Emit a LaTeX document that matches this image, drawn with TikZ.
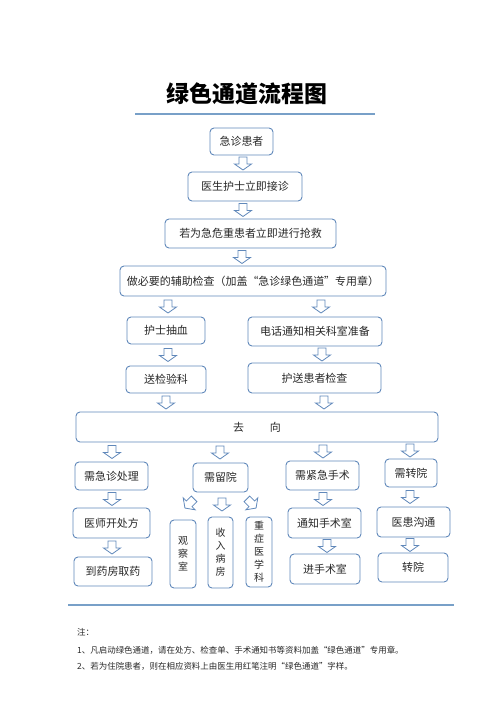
\documentclass[tikz,border=0pt]{standalone}
\usepackage{fontspec}
\setmainfont{Noto Sans CJK SC}
\usetikzlibrary{calc}
\definecolor{boxblue}{RGB}{96,136,186}
\definecolor{ruleblue}{RGB}{120,160,200}
\definecolor{textgray}{RGB}{40,40,40}
\tikzset{flowbox/.style={rectangle, rounded corners=4bp, draw=boxblue, line width=0.9bp, fill=white, inner sep=0pt, text=textgray, font=\fontsize{11}{13}\selectfont, align=center}, vbox/.style={flowbox, font=\fontsize{10}{13}\selectfont}, barr/.pic={\draw[draw=boxblue, line width=0.8bp, fill=white, line join=miter] (-6.5,-4) -- (0.5,-4) -- (0.5,-8.5) -- (6.5,0) -- (0.5,8.5) -- (0.5,4) -- (-6.5,4) -- cycle;}, rule/.style={draw=ruleblue, line width=1.6bp}, note/.style={anchor=west, font=\fontsize{8.5}{10}\selectfont, text=textgray, inner sep=0pt}}
\newcommand{\flowarrow}[3]{\path let \p1=(#2.south), \p2=(#3.north) in (#1bp,\y1) -- pic[midway, sloped]{barr} (#1bp,\y2);}

\begin{document}
\begin{tikzpicture}[x=1bp, y=-1bp]
\useasboundingbox (0,0) rectangle (496,702);
% title
\node (title) at (247,94) {\fontsize{23}{26}\selectfont\bfseries 绿色通道流程图};
\draw[rule] (135,114) -- (375,114);
% main column
\node[flowbox, minimum width=63bp, minimum height=27bp] (patient) at (241.5,141.5) {急诊患者};
\node[flowbox, minimum width=114bp, minimum height=29bp] (receive) at (245,186.5) {医生护士立即接诊};
\node[flowbox, minimum width=171bp, minimum height=29bp] (rescue) at (250.5,233.5) {若为急危重患者立即进行抢救};
\node[flowbox, minimum width=266bp, minimum height=30bp] (exam) at (253,281) {做必要的辅助检查（加盖“急诊绿色通道”专用章）};
\node[flowbox, minimum width=78bp, minimum height=27bp] (blood) at (166,330.5) {护士抽血};
\node[flowbox, minimum width=134bp, minimum height=29bp] (notify) at (315,331.5) {电话通知相关科室准备};
\node[flowbox, minimum width=80bp, minimum height=27bp] (lab) at (166,379.5) {送检验科};
\node[flowbox, minimum width=133bp, minimum height=30bp] (escort) at (314.5,378) {护送患者检查};
\node[flowbox, minimum width=362bp, minimum height=30bp] (dest) at (257,427) {去\hspace{26bp}向};
% destinations
\node[flowbox, minimum width=73bp, minimum height=28bp] (emerg) at (111.5,476) {需急诊处理};
\node[flowbox, minimum width=55bp, minimum height=29bp] (stay) at (220.5,477.5) {需留院};
\node[flowbox, minimum width=73bp, minimum height=29bp] (surgery) at (322.5,475.5) {需紧急手术};
\node[flowbox, minimum width=52bp, minimum height=28bp] (transfer) at (411,473) {需转院};
\node[flowbox, minimum width=77bp, minimum height=30bp] (rx) at (111.5,523) {医师开处方};
\node[vbox, minimum width=26bp, minimum height=68bp] (obs) at (183,554) {观\\察\\室};
\node[vbox, minimum width=25bp, minimum height=71bp] (ward) at (220.5,552.5) {收\\入\\病\\房};
\node[vbox, minimum width=26bp, minimum height=70bp] (icu) at (259,552) {重\\症\\医\\学\\科};
\node[flowbox, minimum width=73bp, minimum height=30bp] (notice) at (324.5,523) {通知手术室};
\node[flowbox, minimum width=73bp, minimum height=30bp] (consult) at (413.5,522) {医患沟通};
\node[flowbox, minimum width=78bp, minimum height=29bp] (pharmacy) at (113,571.5) {到药房取药};
\node[flowbox, minimum width=70bp, minimum height=30bp] (theatre) at (325,569) {进手术室};
\node[flowbox, minimum width=70bp, minimum height=29bp] (moved) at (413,567.5) {转院};
% arrows
\flowarrow{243}{patient}{receive}
\flowarrow{243}{receive}{rescue}
\flowarrow{242}{rescue}{exam}
\flowarrow{168}{exam}{blood}
\flowarrow{321}{exam}{notify}
\flowarrow{168}{blood}{lab}
\flowarrow{322}{notify}{escort}
\flowarrow{166}{lab}{dest}
\flowarrow{324}{escort}{dest}
\flowarrow{112}{dest}{emerg}
\flowarrow{220}{dest}{stay}
\flowarrow{323}{dest}{surgery}
\flowarrow{410}{dest}{transfer}
\flowarrow{112}{emerg}{rx}
\flowarrow{222}{stay}{ward}
\flowarrow{323}{surgery}{notice}
\flowarrow{410}{transfer}{consult}
\flowarrow{112}{rx}{pharmacy}
\flowarrow{327}{notice}{theatre}
\flowarrow{410}{consult}{moved}
\path ($(stay.south west)+(8,0)$) -- pic[midway, sloped, allow upside down]{barr} ++(-22,22);
\path ($(stay.south east)+(-8,0)$) -- pic[midway, sloped, allow upside down]{barr} ++(22,22);
% notes
\draw[rule] (68,605) -- (454,605);
\node[note] (n0) at (77,632) {注：};
\node[note] (n1) at (77,650) {1、凡启动绿色通道，请在处方、检查单、手术通知书等资料加盖“绿色通道”专用章。};
\node[note] (n2) at (77,666) {2、若为住院患者，则在相应资料上由医生用红笔注明“绿色通道”字样。};
\end{tikzpicture}
\end{document}
